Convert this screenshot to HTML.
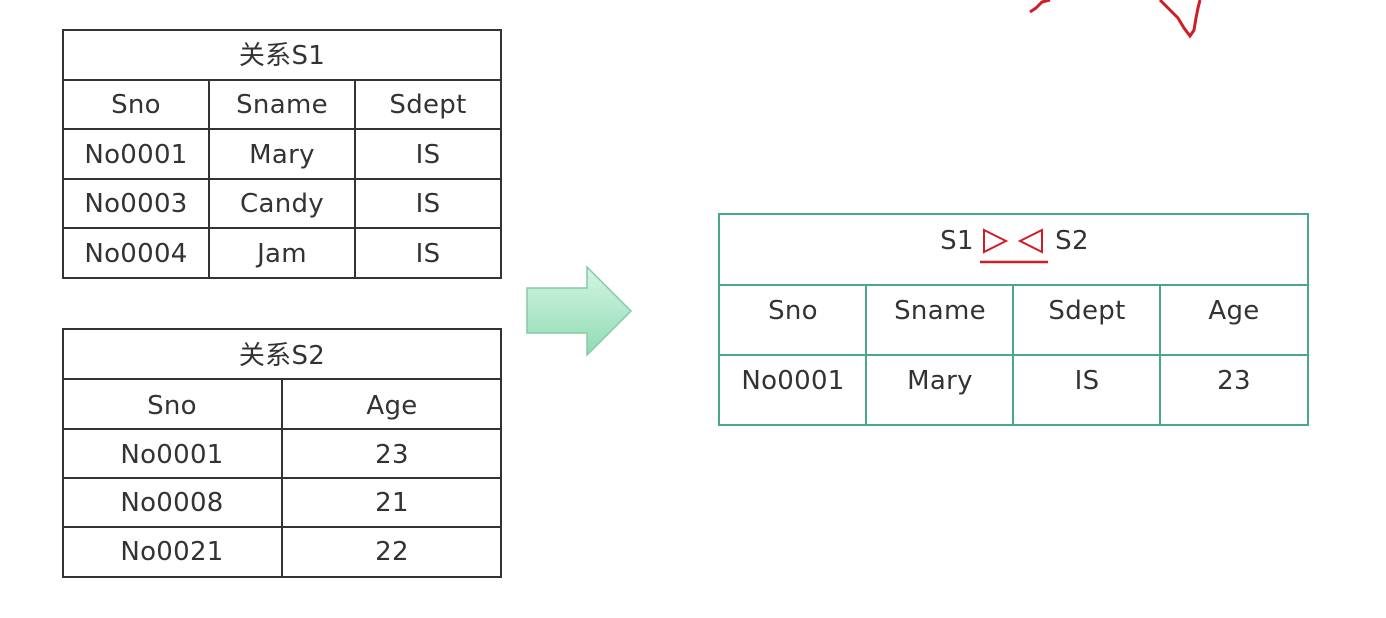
<!DOCTYPE html>
<html><head><meta charset="utf-8"><style>
html,body{margin:0;padding:0;background:#fff;}
svg{display:block;}
text{font-family:"DejaVu Sans","Noto Sans CJK SC",sans-serif;font-size:26px;letter-spacing:0.3px;fill:#333;text-anchor:middle;dominant-baseline:central;}
</style></head><body>
<svg width="1386" height="618" viewBox="0 0 1386 618" xmlns="http://www.w3.org/2000/svg">
<defs><linearGradient id="g" x1="0" y1="0" x2="0" y2="1"><stop offset="0" stop-color="#d4f5e3"/><stop offset="1" stop-color="#8fdcb3"/></linearGradient></defs>
<path d="M1030,12 L1036,8 L1042,2 L1050,0 M1160,0 L1170,10 L1178,18 L1184,28 L1190,36 L1194,30 L1196,18 L1198,8 L1200,0" fill="none" stroke="#d01c24" stroke-width="3"/>
<g stroke="#333" stroke-width="2" fill="none">
<rect x="63" y="30" width="438" height="248"/>
<line x1="63" y1="80" x2="501" y2="80"/><line x1="63" y1="129" x2="501" y2="129"/>
<line x1="63" y1="179" x2="501" y2="179"/><line x1="63" y1="228" x2="501" y2="228"/>
<line x1="209" y1="80" x2="209" y2="278"/><line x1="355" y1="80" x2="355" y2="278"/>
</g>
<text x="282" y="56">关系S1</text>
<text x="136" y="105">Sno</text><text x="282" y="105">Sname</text><text x="428" y="105">Sdept</text>
<text x="136" y="155">No0001</text><text x="282" y="155">Mary</text><text x="428" y="155">IS</text>
<text x="136" y="204">No0003</text><text x="282" y="204">Candy</text><text x="428" y="204">IS</text>
<text x="136" y="254">No0004</text><text x="282" y="254">Jam</text><text x="428" y="254">IS</text>
<g stroke="#333" stroke-width="2" fill="none">
<rect x="63" y="329" width="438" height="248"/>
<line x1="63" y1="379" x2="501" y2="379"/><line x1="63" y1="429" x2="501" y2="429"/>
<line x1="63" y1="478" x2="501" y2="478"/><line x1="63" y1="527" x2="501" y2="527"/>
<line x1="282" y1="379" x2="282" y2="577"/>
</g>
<text x="282" y="356">关系S2</text>
<text x="172" y="406">Sno</text><text x="392" y="406">Age</text>
<text x="172" y="455">No0001</text><text x="392" y="455">23</text>
<text x="172" y="503">No0008</text><text x="392" y="503">21</text>
<text x="172" y="552">No0021</text><text x="392" y="552">22</text>
<path d="M527,288 L587,288 L587,267 L631,311 L587,355 L587,333 L527,333 Z" fill="url(#g)" stroke="#86c9a5" stroke-width="1.5"/>
<g stroke="#4aa886" stroke-width="2" fill="none">
<rect x="719" y="214" width="589" height="211"/>
<line x1="719" y1="285" x2="1308" y2="285"/><line x1="719" y1="355" x2="1308" y2="355"/>
<line x1="866" y1="285" x2="866" y2="425"/><line x1="1013" y1="285" x2="1013" y2="425"/><line x1="1160" y1="285" x2="1160" y2="425"/>
</g>
<text x="957" y="241">S1</text><text x="1072" y="241">S2</text>
<g stroke="#d01c24" stroke-width="2" fill="none">
<path d="M984,230 L1006,241 L984,252 Z"/>
<path d="M1042,230 L1020,241 L1042,252 Z"/>
<line x1="980" y1="262" x2="1048" y2="262" stroke-width="2.5"/>
</g>
<text x="793" y="311">Sno</text><text x="940" y="311">Sname</text><text x="1087" y="311">Sdept</text><text x="1234" y="311">Age</text>
<text x="793" y="381">No0001</text><text x="940" y="381">Mary</text><text x="1087" y="381">IS</text><text x="1234" y="381">23</text>
</svg>
</body></html>
